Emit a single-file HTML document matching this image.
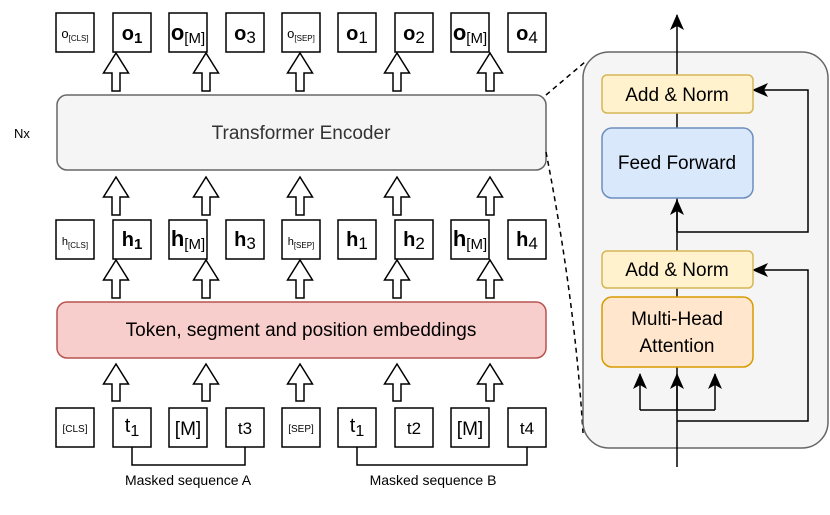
<!DOCTYPE html>
<html><head><meta charset="utf-8"><style>
html,body{margin:0;padding:0;background:#fff;}
svg{display:block;font-family:"Liberation Sans",Arial,sans-serif;}
</style></head><body>
<svg width="830" height="515" viewBox="0 0 830 515" xmlns="http://www.w3.org/2000/svg">
<defs>
<marker id="ah" markerWidth="16" markerHeight="16" refX="15" refY="8" orient="auto" markerUnits="userSpaceOnUse"><path d="M0,1 L16,8 L0,15 L4,8 z" fill="#000"/></marker>
</defs>
<g fill="#fff" stroke="#000" stroke-width="1.5">
<rect x="56" y="13" width="38" height="39"/><rect x="113" y="13" width="38" height="39"/><rect x="169" y="13" width="38" height="39"/><rect x="226" y="13" width="38" height="39"/><rect x="282" y="13" width="38" height="39"/><rect x="338" y="13" width="38" height="39"/><rect x="395" y="13" width="38" height="39"/><rect x="451" y="13" width="38" height="39"/><rect x="508" y="13" width="38" height="39"/>
<rect x="56" y="220" width="38" height="39"/><rect x="113" y="220" width="38" height="39"/><rect x="169" y="220" width="38" height="39"/><rect x="226" y="220" width="38" height="39"/><rect x="282" y="220" width="38" height="39"/><rect x="338" y="220" width="38" height="39"/><rect x="395" y="220" width="38" height="39"/><rect x="451" y="220" width="38" height="39"/><rect x="508" y="220" width="38" height="39"/>
<rect x="56" y="408" width="38" height="39"/><rect x="113" y="408" width="38" height="39"/><rect x="169" y="408" width="38" height="39"/><rect x="226" y="408" width="38" height="39"/><rect x="282" y="408" width="38" height="39"/><rect x="338" y="408" width="38" height="39"/><rect x="395" y="408" width="38" height="39"/><rect x="451" y="408" width="38" height="39"/><rect x="508" y="408" width="38" height="39"/>
</g>
<g fill="#fff" stroke="#000" stroke-width="1.5">
<path d="M116,53 L128.5,73 L120,73 L120,91 L112,91 L112,73 L103.5,73 Z"/>
<path d="M206,53 L218.5,73 L210,73 L210,91 L202,91 L202,73 L193.5,73 Z"/>
<path d="M300,53 L312.5,73 L304,73 L304,91 L296,91 L296,73 L287.5,73 Z"/>
<path d="M397,53 L409.5,73 L401,73 L401,91 L393,91 L393,73 L384.5,73 Z"/>
<path d="M490,53 L502.5,73 L494,73 L494,91 L486,91 L486,73 L477.5,73 Z"/>
<path d="M116,177 L128.5,197 L120,197 L120,215 L112,215 L112,197 L103.5,197 Z"/>
<path d="M206,177 L218.5,197 L210,197 L210,215 L202,215 L202,197 L193.5,197 Z"/>
<path d="M300,177 L312.5,197 L304,197 L304,215 L296,215 L296,197 L287.5,197 Z"/>
<path d="M397,177 L409.5,197 L401,197 L401,215 L393,215 L393,197 L384.5,197 Z"/>
<path d="M490,177 L502.5,197 L494,197 L494,215 L486,215 L486,197 L477.5,197 Z"/>
<path d="M116,260 L128.5,280 L120,280 L120,298 L112,298 L112,280 L103.5,280 Z"/>
<path d="M206,260 L218.5,280 L210,280 L210,298 L202,298 L202,280 L193.5,280 Z"/>
<path d="M300,260 L312.5,280 L304,280 L304,298 L296,298 L296,280 L287.5,280 Z"/>
<path d="M397,260 L409.5,280 L401,280 L401,298 L393,298 L393,280 L384.5,280 Z"/>
<path d="M490,260 L502.5,280 L494,280 L494,298 L486,298 L486,280 L477.5,280 Z"/>
<path d="M116,364 L128.5,384 L120,384 L120,401 L112,401 L112,384 L103.5,384 Z"/>
<path d="M206,364 L218.5,384 L210,384 L210,401 L202,401 L202,384 L193.5,384 Z"/>
<path d="M300,364 L312.5,384 L304,384 L304,401 L296,401 L296,384 L287.5,384 Z"/>
<path d="M397,364 L409.5,384 L401,384 L401,401 L393,401 L393,384 L384.5,384 Z"/>
<path d="M490,364 L502.5,384 L494,384 L494,401 L486,401 L486,384 L477.5,384 Z"/>
</g>
<rect x="57" y="95" width="489" height="75" rx="10" fill="#f5f5f5" stroke="#666" stroke-width="1.5"/>
<text x="301" y="139" font-size="19" fill="#333" text-anchor="middle">Transformer Encoder</text>
<text x="22" y="138" font-size="13" fill="#000" text-anchor="middle">Nx</text>
<rect x="57" y="302" width="489" height="56" rx="10" fill="#f8cecc" stroke="#b85450" stroke-width="1.5"/>
<text x="301" y="336" font-size="19" fill="#000" text-anchor="middle">Token, segment and position embeddings</text>
<path d="M132,447 V465 H245 V447 M357,447 V465 H527 V447" fill="none" stroke="#000" stroke-width="1.5"/>
<text x="188" y="485" font-size="14" text-anchor="middle">Masked sequence A</text>
<text x="433" y="485" font-size="14" text-anchor="middle">Masked sequence B</text>
<g text-anchor="middle" fill="#000">
<text x="75" y="38" font-size="13">o<tspan font-size="8" dy="3">[CLS]</tspan></text>
<text x="132" y="40" font-size="20" font-weight="bold">o<tspan font-size="15" dy="3">1</tspan></text>
<text x="188" y="40" font-size="22" font-weight="bold">o<tspan font-size="15" font-weight="normal" dy="3">[M]</tspan></text>
<text x="245" y="40" font-size="20" font-weight="bold">o<tspan font-size="17" font-weight="normal" dy="3">3</tspan></text>
<text x="301" y="38" font-size="13">o<tspan font-size="8" dy="3">[SEP]</tspan></text>
<text x="357" y="40" font-size="20" font-weight="bold">o<tspan font-size="17" font-weight="normal" dy="3">1</tspan></text>
<text x="414" y="40" font-size="20" font-weight="bold">o<tspan font-size="17" font-weight="normal" dy="3">2</tspan></text>
<text x="470" y="40" font-size="22" font-weight="bold">o<tspan font-size="15" font-weight="normal" dy="3">[M]</tspan></text>
<text x="527" y="40" font-size="20" font-weight="bold">o<tspan font-size="17" font-weight="normal" dy="3">4</tspan></text>
<text x="75" y="245" font-size="11">h<tspan font-size="8" dy="3">[CLS]</tspan></text>
<text x="132" y="246" font-size="20" font-weight="bold">h<tspan font-size="15" dy="3">1</tspan></text>
<text x="188" y="246" font-size="22" font-weight="bold">h<tspan font-size="15" font-weight="normal" dy="3">[M]</tspan></text>
<text x="245" y="246" font-size="20" font-weight="bold">h<tspan font-size="17" font-weight="normal" dy="3">3</tspan></text>
<text x="301" y="245" font-size="11">h<tspan font-size="8" dy="3">[SEP]</tspan></text>
<text x="357" y="246" font-size="20" font-weight="bold">h<tspan font-size="17" font-weight="normal" dy="3">1</tspan></text>
<text x="414" y="246" font-size="20" font-weight="bold">h<tspan font-size="17" font-weight="normal" dy="3">2</tspan></text>
<text x="470" y="246" font-size="22" font-weight="bold">h<tspan font-size="15" font-weight="normal" dy="3">[M]</tspan></text>
<text x="527" y="246" font-size="20" font-weight="bold">h<tspan font-size="17" font-weight="normal" dy="3">4</tspan></text>
<text x="75" y="432" font-size="10">[CLS]</text>
<text x="132" y="432" font-size="20">t<tspan font-size="16" dy="4">1</tspan></text>
<text x="188" y="435" font-size="19">[M]</text>
<text x="245" y="434" font-size="17">t3</text>
<text x="301" y="432" font-size="10">[SEP]</text>
<text x="357" y="432" font-size="20">t<tspan font-size="16" dy="4">1</tspan></text>
<text x="414" y="434" font-size="17">t2</text>
<text x="470" y="435" font-size="19">[M]</text>
<text x="527" y="434" font-size="17">t4</text>
</g>
<path d="M546,95 L585,62" stroke="#000" stroke-width="1.5" stroke-dasharray="5,4" fill="none"/>
<path d="M546,152 Q575,300 583,433" stroke="#000" stroke-width="1.5" stroke-dasharray="5,4" fill="none"/>
<rect x="583" y="52" width="245" height="396" rx="26" fill="#f5f5f5" stroke="#666" stroke-width="1.5"/>
<g stroke="#000" stroke-width="1.5" fill="none">
<path d="M677,467 V15" marker-end="url(#ah)"/>
<path d="M677,232 V200" marker-end="url(#ah)"/>
<path d="M677,232 H808 V90 H753" marker-end="url(#ah)"/>
<path d="M677,421 H808 V270 H753" marker-end="url(#ah)"/>
<path d="M640,410 V374" marker-end="url(#ah)"/>
<path d="M715,410 V374" marker-end="url(#ah)"/>
<path d="M640,410 H715"/>
<path d="M677,410 V374" marker-end="url(#ah)"/>
</g>
<rect x="602" y="75" width="151" height="38" rx="5" fill="#fff2cc" stroke="#d6b656" stroke-width="1.5"/>
<text x="677" y="101" font-size="19" text-anchor="middle">Add &amp; Norm</text>
<rect x="602" y="128" width="151" height="70" rx="10" fill="#dae8fc" stroke="#6c8ebf" stroke-width="1.5"/>
<text x="677" y="169" font-size="19" text-anchor="middle">Feed Forward</text>
<rect x="602" y="251" width="151" height="37" rx="5" fill="#fff2cc" stroke="#d6b656" stroke-width="1.5"/>
<text x="677" y="276" font-size="19" text-anchor="middle">Add &amp; Norm</text>
<rect x="602" y="297" width="151" height="70" rx="10" fill="#ffe6cc" stroke="#d79b00" stroke-width="1.5"/>
<text x="677" y="325" font-size="19" text-anchor="middle">Multi-Head</text>
<text x="677" y="352" font-size="19" text-anchor="middle">Attention</text>
</svg>
</body></html>
